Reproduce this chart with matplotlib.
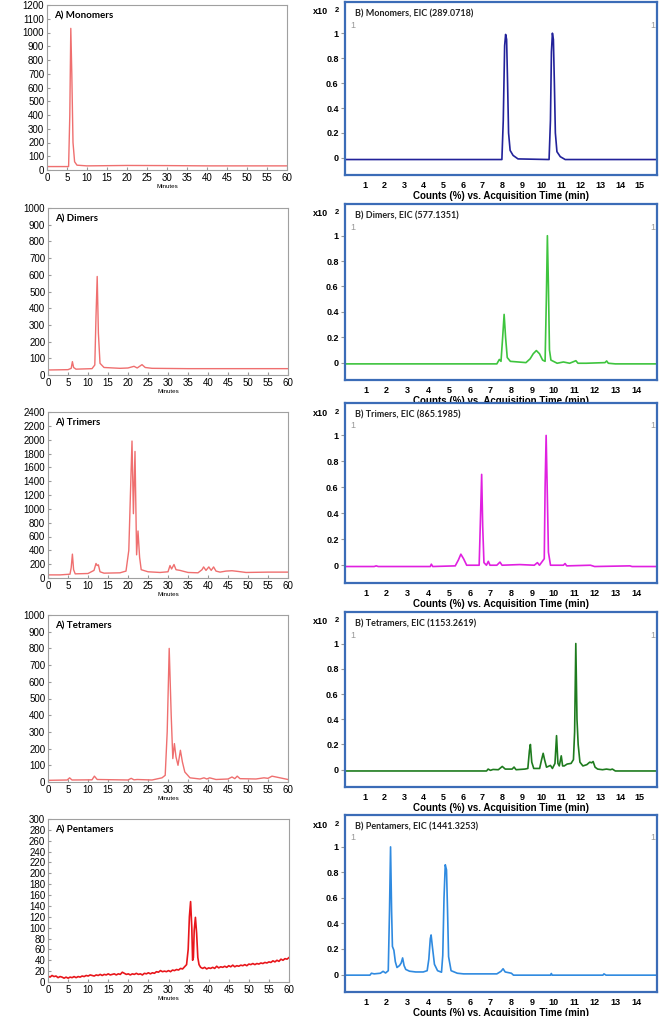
import matplotlib
matplotlib.use("Agg")
import matplotlib.pyplot as plt
import numpy as np

# ---- left column: chromatograms (minutes, signal) ----
mono_a = [(0, 25), (5.4, 25), (5.7, 400), (5.95, 1030), (6.2, 700), (6.5, 200), (6.9, 60),
          (7.5, 35), (10, 30), (20, 33), (30, 32), (40, 30), (50, 30), (60, 30)]

dimer_a = [(0, 30), (5, 32), (5.8, 40), (6.1, 80), (6.4, 45), (7, 35), (11, 38), (11.7, 60),
           (12.0, 350), (12.3, 590), (12.6, 250), (13, 70), (14, 45), (18, 40), (20, 42),
           (21.5, 52), (22.3, 42), (23.5, 62), (24.3, 45), (26, 40), (35, 38), (60, 38)]

trimer_a = [(0, 45), (3, 45), (5.5, 55), (5.8, 150), (6.1, 345), (6.4, 120), (6.8, 60), (10, 65),
            (11.5, 110), (12.0, 210), (12.3, 180), (12.6, 190), (13.0, 90), (14, 70), (18, 75),
            (19.5, 100), (20.2, 400), (20.6, 1200), (21.0, 1980), (21.35, 930), (21.75, 1830),
            (22.15, 335), (22.5, 680), (22.9, 300), (23.3, 120), (25, 90), (28, 80), (30, 90),
            (30.5, 180), (30.9, 130), (31.5, 195), (32, 120), (33, 110), (35, 80), (37.5, 75),
            (38.5, 120), (38.9, 160), (39.5, 110), (40.2, 160), (40.8, 110), (41.4, 160), (42, 100),
            (43, 85), (44.5, 100), (46, 105), (47.5, 95), (49.5, 80), (55, 85), (60, 85)]

tetramer_a = [(0, 10), (4.8, 12), (5.4, 25), (6, 12), (11, 13), (11.6, 35), (12.3, 15), (20, 12),
              (20.8, 22), (21.5, 13), (22.3, 15), (26, 12), (28.5, 25), (29.3, 40), (29.8, 300),
              (30.3, 800), (30.8, 400), (31.2, 140), (31.6, 230), (32.0, 150), (32.5, 100),
              (33.1, 190), (33.6, 120), (34.2, 60), (35.5, 25), (38, 18), (39, 25), (39.7, 18),
              (40.4, 25), (42, 15), (45, 18), (46, 30), (46.7, 20), (47.3, 35), (48, 20), (52, 18),
              (54, 25), (55, 22), (56, 35), (57, 30), (58, 25), (60, 15)]

pent_a_t = list(np.arange(0, 34.6, 0.5)) + [34.9, 35.2, 35.5, 35.8, 36.0, 36.2, 36.4, 36.7, 37.0,
                                             37.3, 37.6, 38.0] + list(np.arange(38.5, 60.1, 0.5))
pent_a_y = [11, 9, 12, 10, 11, 8, 10, 9, 7, 9, 7, 9, 8, 10, 8, 10, 9, 11, 10, 12, 11, 13, 12, 11,
            13, 12, 14, 12, 14, 13, 15, 13, 14, 15, 13, 15, 14, 18, 16, 14, 15, 13, 15, 14, 16, 14,
            15, 13, 16, 15, 17, 15, 17, 16, 19, 18, 21, 19, 20, 19, 21, 19, 22, 21, 23, 22, 25, 24,
            28, 32,
            60, 120, 148, 100, 40, 45, 95, 119, 90, 45, 32, 27,
            25, 27, 24, 26, 25, 27, 25, 29, 26, 28, 27, 29, 27, 30, 28, 31, 28, 30, 29, 31, 30, 32,
            30, 33, 32, 34, 32, 34, 33, 35, 34, 36, 35, 37, 36, 39, 37, 40, 38, 42, 40, 43, 42, 45]
pent_a = list(zip(pent_a_t, pent_a_y))

# ---- right column: EIC traces (min, counts x10^2) ----
mono_b = [(0, -0.013), (7.98, -0.013), (8.05, 0.3), (8.12, 0.9), (8.17, 0.99), (8.22, 0.95),
          (8.27, 0.6), (8.32, 0.2), (8.4, 0.06), (8.55, 0.02), (8.8, -0.008), (10.38, -0.013),
          (10.45, 0.3), (10.5, 0.85), (10.55, 1.0), (10.6, 0.95), (10.65, 0.6), (10.7, 0.2),
          (10.78, 0.05), (10.95, 0.01), (11.2, -0.013), (15.9, -0.013)]

dimer_b = [(0, -0.01), (7.3, -0.01), (7.42, 0.025), (7.5, 0.01), (7.58, 0.2), (7.65, 0.38),
           (7.72, 0.2), (7.8, 0.04), (7.95, 0.01), (8.7, 0.0), (8.9, 0.03), (9.05, 0.07),
           (9.2, 0.095), (9.35, 0.07), (9.5, 0.02), (9.62, 0.01), (9.68, 0.5), (9.73, 1.0),
           (9.78, 0.6), (9.83, 0.1), (9.9, 0.02), (10.2, -0.005), (10.5, 0.005), (10.8, -0.005),
           (11.1, 0.015), (11.2, -0.005), (11.6, -0.005), (12.5, 0.0), (12.58, 0.013),
           (12.66, -0.005), (13, -0.01), (15, -0.01)]

trimer_b = [(0, -0.01), (1.4, -0.01), (1.5, -0.005), (1.6, -0.01), (4.1, -0.01), (4.15, 0.008),
            (4.22, -0.01), (5.3, -0.005), (5.45, 0.04), (5.57, 0.085), (5.7, 0.05), (5.85, 0.0),
            (6.45, 0.0), (6.52, 0.4), (6.57, 0.70), (6.62, 0.3), (6.68, 0.02), (6.8, 0.0),
            (6.89, 0.03), (6.97, 0.0), (7.3, 0.0), (7.45, 0.024), (7.55, 0.0), (8.4, 0.005),
            (9.1, 0.0), (9.25, 0.02), (9.35, 0.0), (9.58, 0.05), (9.62, 0.6), (9.67, 1.0),
            (9.72, 0.6), (9.78, 0.1), (9.88, 0.0), (10.5, 0.0), (10.58, 0.013), (10.66, -0.005),
            (11.8, 0.0), (12, -0.01), (13.7, -0.005), (13.8, -0.01), (15, -0.01)]

tetramer_b = [(0, -0.01), (7.2, -0.01), (7.28, 0.005), (7.4, -0.005), (7.53, 0.002), (7.8, 0.0),
              (8.0, 0.026), (8.15, 0.005), (8.5, 0.005), (8.6, 0.021), (8.7, 0.0), (9.15, 0.005),
              (9.3, 0.01), (9.38, 0.15), (9.43, 0.2), (9.5, 0.06), (9.6, 0.01), (9.9, 0.01),
              (10.0, 0.08), (10.08, 0.13), (10.15, 0.08), (10.25, 0.02), (10.45, 0.034),
              (10.55, 0.01), (10.68, 0.05), (10.76, 0.27), (10.83, 0.05), (10.9, 0.03),
              (11.0, 0.11), (11.07, 0.03), (11.15, 0.03), (11.3, 0.045), (11.5, 0.05),
              (11.62, 0.08), (11.68, 0.3), (11.74, 1.0), (11.8, 0.4), (11.86, 0.2), (11.95, 0.06),
              (12.1, 0.03), (12.3, 0.04), (12.45, 0.06), (12.55, 0.055), (12.62, 0.065),
              (12.72, 0.02), (12.85, 0.005), (13.1, 0.0), (13.3, 0.005), (13.5, 0.0),
              (13.6, 0.005), (13.75, -0.01), (15.9, -0.01)]

pent_b = [(0, -0.005), (1.2, -0.005), (1.27, 0.01), (1.4, 0.005), (1.7, 0.01), (1.83, 0.025),
          (1.95, 0.012), (2.08, 0.03), (2.14, 0.5), (2.19, 1.0), (2.24, 0.5), (2.28, 0.22),
          (2.35, 0.19), (2.42, 0.1), (2.5, 0.055), (2.62, 0.07), (2.7, 0.09), (2.77, 0.13),
          (2.84, 0.07), (2.92, 0.04), (3.1, 0.026), (3.4, 0.02), (3.76, 0.02), (3.95, 0.03),
          (4.03, 0.12), (4.1, 0.28), (4.14, 0.31), (4.2, 0.22), (4.3, 0.08), (4.45, 0.03),
          (4.64, 0.018), (4.7, 0.15), (4.76, 0.6), (4.82, 0.86), (4.88, 0.82), (4.93, 0.5),
          (4.98, 0.14), (5.1, 0.03), (5.4, 0.01), (5.7, 0.005), (7.3, 0.005), (7.5, 0.025),
          (7.6, 0.045), (7.7, 0.02), (8.0, 0.01), (8.1, -0.005), (9.88, -0.005), (9.92, 0.008),
          (9.96, -0.005), (12.4, -0.005), (12.45, 0.005), (12.55, -0.005), (15, -0.005)]

W, H = 660, 1016
fig = plt.figure(figsize=(W / 100, H / 100), dpi=100)
ARIAL = "Liberation Sans"
CALIBRI = "Lato"


def px_axes(x0, y0, x1, y1):
    return fig.add_axes([x0 / W, 1 - y1 / H, (x1 - x0) / W, (y1 - y0) / H])


def left_panel(rect, data, ymax, ystep, title, color, lw=1.0):
    ax = px_axes(*rect)
    t, y = zip(*data)
    ax.plot(t, y, color=color, lw=lw)
    ax.set_xlim(0, 60)
    ax.set_ylim(0, ymax)
    ax.set_xticks(range(0, 61, 5))
    ax.set_yticks(np.arange(0, ymax + 1, ystep))
    ax.tick_params(labelsize=7, length=2, direction="in", color="#999999", pad=2)
    for lab in ax.get_xticklabels() + ax.get_yticklabels():
        lab.set_fontfamily(ARIAL)
    for s in ax.spines.values():
        s.set_color("#a0a0a0")
        s.set_linewidth(0.8)
    ax.set_xlabel("Minutes", fontsize=4.5, labelpad=1, fontfamily=ARIAL)
    ax.annotate(title, xy=(0, 1), xycoords="axes fraction", xytext=(7, -11),
                textcoords="offset pixels", fontfamily=CALIBRI, fontweight="bold",
                fontsize=7, va="center", ha="left")
    return ax


def right_panel(rect, data, xmax, nticks, title, color):
    ax = px_axes(*rect)
    t, y = zip(*data)
    ax.plot(t, y, color=color, lw=1.2)
    ax.set_xlim(0, xmax)
    ax.set_ylim(-0.137, 1.25)
    ax.set_xticks(range(1, nticks + 1))
    yt = [0, 0.2, 0.4, 0.6, 0.8, 1]
    ax.set_yticks(yt)
    ax.set_yticklabels([f"{v:g}" for v in yt])
    ax.tick_params(axis="x", length=0, pad=4)
    ax.tick_params(axis="y", length=3, color="#999999", pad=1.5)
    for lab in ax.get_xticklabels() + ax.get_yticklabels():
        lab.set_fontfamily(ARIAL)
        lab.set_fontweight("bold")
        lab.set_fontsize(6.5)
    for s in ax.spines.values():
        s.set_color("#3b6cb7")
        s.set_linewidth(1.6)
    ax.set_xlabel("Counts (%) vs. Acquisition Time (min)", fontfamily=ARIAL,
                  fontweight="bold", fontsize=7, labelpad=1)
    ax.annotate(title, xy=(0, 1), xycoords="axes fraction", xytext=(10, -12),
                textcoords="offset pixels", fontfamily=CALIBRI, fontsize=6.5,
                fontweight="bold", va="center", ha="left", color="#222222")
    ax.annotate("1", xy=(0, 1), xycoords="axes fraction", xytext=(5, -23),
                textcoords="offset pixels", fontfamily=ARIAL, fontsize=6.5,
                color="#999999", va="center", ha="left")
    ax.annotate("1", xy=(1, 1), xycoords="axes fraction", xytext=(-7, -23),
                textcoords="offset pixels", fontfamily=ARIAL, fontsize=6.5,
                color="#999999", va="center", ha="left", annotation_clip=False,
                clip_on=True)
    ax.annotate("x10", xy=(0, 1), xycoords="axes fraction", xytext=(-32, -10),
                textcoords="offset pixels", fontfamily=ARIAL, fontsize=6.5,
                fontweight="bold", va="center", ha="left", annotation_clip=False)
    ax.annotate("2", xy=(0, 1), xycoords="axes fraction", xytext=(-10, -9),
                textcoords="offset pixels", fontfamily=ARIAL, fontsize=5.5,
                fontweight="bold", va="center", ha="left", annotation_clip=False)
    return ax


LRED = "#ef6f6f"
left_panel((47, 5, 287, 170), mono_a, 1200, 100, "A) Monomers", LRED)
right_panel((345, 2, 657, 175), mono_b, 15.87, 15, "B) Monomers, EIC (289.0718)", "#22229a")

left_panel((48, 208, 288, 375), dimer_a, 1000, 100, "A) Dimers", LRED)
right_panel((345, 204, 657, 380), dimer_b, 15.0, 14, "B) Dimers, EIC (577.1351)", "#3ec43e")

left_panel((48, 412, 288, 578), trimer_a, 2400, 200, "A) Trimers", LRED)
right_panel((345, 403, 657, 583), trimer_b, 15.0, 14, "B) Trimers, EIC (865.1985)", "#e020e0")

left_panel((48, 615, 288, 782), tetramer_a, 1000, 100, "A) Tetramers", LRED)
right_panel((345, 612, 657, 787), tetramer_b, 15.87, 15, "B) Tetramers, EIC (1153.2619)", "#1e7b1e")

left_panel((48, 819, 289, 982), pent_a, 300, 20, "A) Pentamers", "#e8161b", lw=1.2)
right_panel((345, 815, 657, 992), pent_b, 15.0, 14, "B) Pentamers, EIC (1441.3253)", "#2f8ae0")

fig.savefig("out.png", dpi=100)
